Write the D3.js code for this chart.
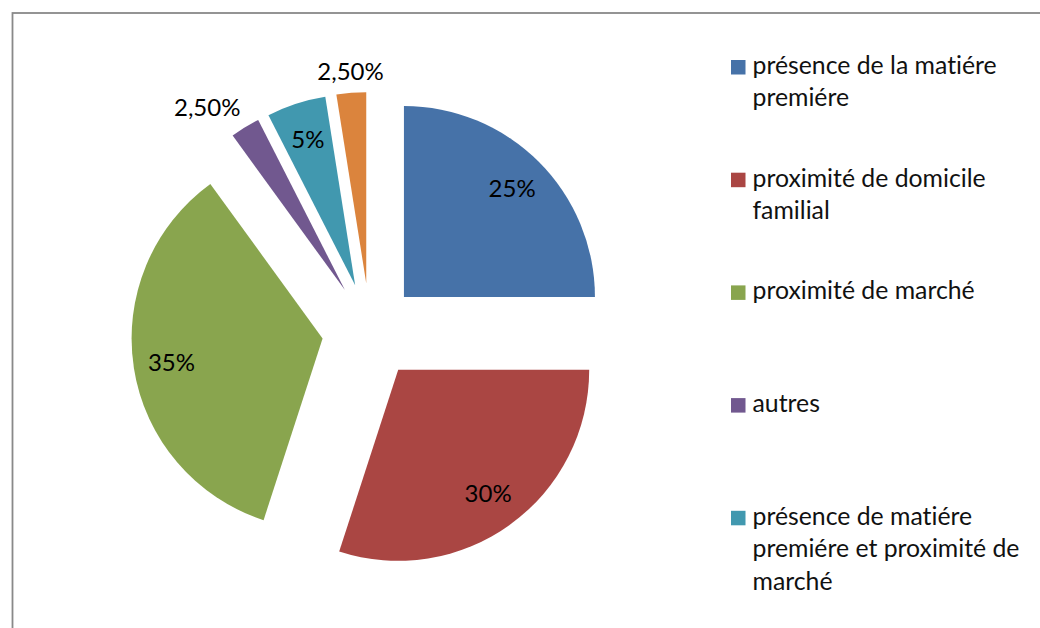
<!DOCTYPE html>
<html>
<head>
<meta charset="utf-8">
<script src="https://cdn.jsdelivr.net/npm/d3@7"></script>
<style>
  body { margin: 0; background: #fff; }
  svg { display: block; font-family: Lato, "Open Sans", sans-serif; font-variant-ligatures: none; }
</style>
</head>
<body>
<svg id="chart" width="1040" height="628"></svg>
<script>
// chart data
var categories = [
  "présence de la matiére première",
  "proximité de domicile familial",
  "proximité de marché",
  "autres",
  "présence de matiére première et proximité de marché",
  ""
];
var values = [25, 30, 35, 2.5, 5, 2.5];
var valueLabels = ["25%", "30%", "35%", "2,50%", "5%", "2,50%"];
var colors = ["#4672A8", "#AA4643", "#89A54E", "#71588F", "#4198AF", "#DB843D"];
// legend text as it wraps in the picture (last entry does not fit)
var legendLines = [
  ["présence de la matiére", "premiére"],
  ["proximité de domicile", "familial"],
  ["proximité de marché"],
  ["autres"],
  ["présence de matiére", "premiére et proximité de", "marché"]
];

var svg = d3.select("#chart");

// frame
svg.append("rect")
  .attr("x", 12.5).attr("y", 13)
  .attr("width", 1200).attr("height", 800)
  .attr("fill", "none")
  .attr("stroke", "#898989")
  .attr("stroke-width", 1.8);

var cx = 370, cy = 331, radius = 191, explode = 48;

var pie = d3.pie().sort(null).value(function (d) { return d; });
var arc = d3.arc().innerRadius(0).outerRadius(radius);
var arcs = pie(values);

function mid(d) { return (d.startAngle + d.endAngle) / 2; }

var slices = svg.append("g").attr("class", "slices")
  .attr("transform", "translate(" + cx + "," + cy + ")");

slices.selectAll("path").data(arcs).enter().append("path")
  .attr("d", arc)
  .attr("fill", function (d, i) { return colors[i]; })
  .attr("transform", function (d) {
    var a = mid(d);
    return "translate(" + (Math.sin(a) * explode) + "," + (-Math.cos(a) * explode) + ")";
  });

// data labels: inside for large slices, outside for the two smallest
var labels = svg.append("g").attr("class", "labels")
  .attr("transform", "translate(" + cx + "," + cy + ")")
  .style("font-size", "24px").attr("fill", "#000");

labels.selectAll("text").data(arcs).enter().append("text")
  .each(function (d, i) {
    var a = mid(d);
    var s = Math.sin(a), c = -Math.cos(a);
    var el = d3.select(this).text(valueLabels[i]);
    var outside = d.value < 5;
    if (!outside) {
      var r = explode + 153;
      el.attr("x", s * r).attr("y", c * r)
        .attr("text-anchor", "middle")
        .attr("dy", "0.35em");
    } else {
      var r2 = explode + 200;
      el.attr("x", s * r2).attr("y", c * r2 - 4)
        .attr("text-anchor", Math.abs(s) > 0.3 ? (s < 0 ? "end" : "start") : "middle");
    }
  });

// legend
var legend = svg.append("g").attr("class", "legend")
  .attr("transform", "translate(731,60)");

var item = legend.selectAll("g").data(legendLines).enter().append("g")
  .attr("transform", function (d, i) { return "translate(0," + (i * 112.7) + ")"; });

item.append("rect")
  .attr("width", 14.5).attr("height", 14.5)
  .attr("fill", function (d, i) { return colors[i]; });

item.append("text")
  .style("font-size", "24.8px")
  .attr("fill", "#111")
  .attr("y", 13.8)
  .selectAll("tspan").data(function (d) { return d; }).enter().append("tspan")
  .attr("x", 21.5)
  .attr("dy", function (d, j) { return j === 0 ? 0 : 32.6; })
  .text(function (d) { return d; });
</script>
</body>
</html>
